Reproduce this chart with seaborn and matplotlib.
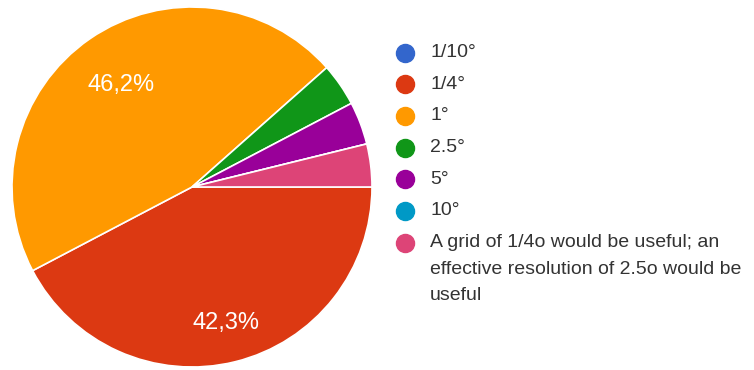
import matplotlib
matplotlib.use("Agg")
import numpy as np
import matplotlib.pyplot as plt
import seaborn as sns
from matplotlib.lines import Line2D

sns.set_theme(style="white")
plt.rcParams['font.family'] = ['Liberation Sans', 'DejaVu Sans']

categories = ["1/10°", "1/4°", "1°", "2.5°", "5°", "10°",
              "A grid of 1/4o would be useful; an\neffective resolution of 2.5o would be\nuseful"]
counts = [0, 11, 12, 1, 1, 0, 1]
colors = ["#3366cc", "#dc3912", "#ff9900", "#109618", "#990099", "#0099c6", "#dd4477"]

fig = plt.figure(figsize=(7.54, 3.70), dpi=100)
W, H = 754, 370
cx, cy, r = 192, 187, 180
ax = fig.add_axes([(cx - r) / W, (H - cy - r) / H, 2 * r / W, 2 * r / H])

def fmt(p):
    return (f"{p:.1f}%".replace(".", ",")) if p >= 10 else ""

wedges, texts, autotexts = ax.pie(
    counts, colors=colors, startangle=0, counterclock=False,
    autopct=fmt, pctdistance=0.7,
    wedgeprops=dict(edgecolor="white", linewidth=1.2),
    textprops=dict(color="white", fontsize=17))
# push the larger-slice labels to Google-chart-like radii
label_dist = {1: 0.78, 2: 0.69}
for i, d in label_dist.items():
    w = wedges[i]
    ang = np.deg2rad((w.theta1 + w.theta2) / 2)
    autotexts[i].set_position((d * np.cos(ang), d * np.sin(ang)))
ax.set_xlim(-1, 1)
ax.set_ylim(-1, 1)
ax.set_aspect("equal")
ax.axis("off")

# legend
x_mark, x_text = 405, 430
y0, dy = 52.5, 31.7
line_h = 26.5
for i, (lab, col) in enumerate(zip(categories, colors)):
    y = y0 + i * dy
    fig.add_artist(Line2D([x_mark / W], [1 - y / H], marker="o", markersize=13,
                          color=col, linestyle="none", transform=fig.transFigure))
    lines = lab.split("\n")
    for j, ln in enumerate(lines):
        fig.text(x_text / W, 1 - (y + j * line_h) / H, ln, fontsize=14,
                 color="#333333", va="center", ha="left")

fig.savefig("out.png", dpi=100)
